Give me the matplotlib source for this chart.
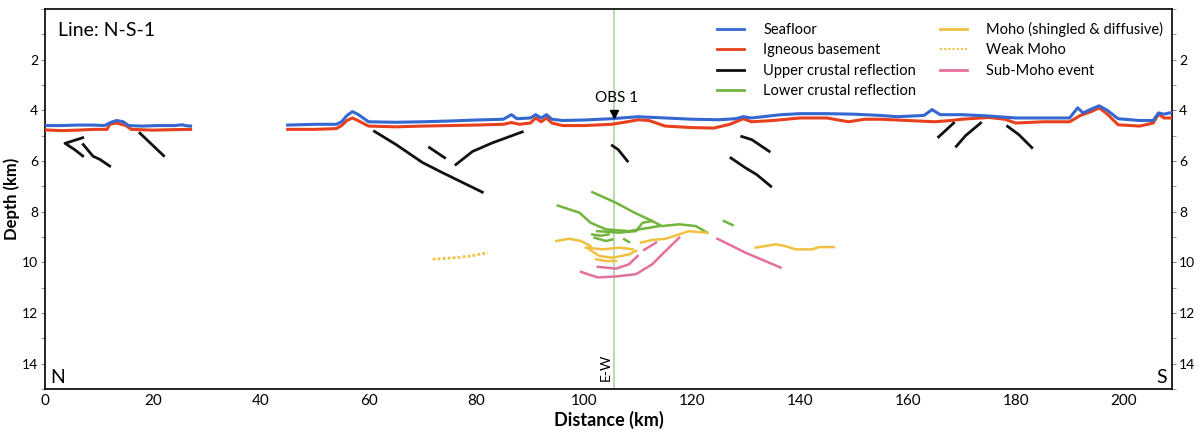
import numpy as np
import matplotlib
matplotlib.use("Agg")
import matplotlib.pyplot as plt
from matplotlib.lines import Line2D
from matplotlib.ticker import MultipleLocator

plt.rcParams["font.family"] = ["Lato", "DejaVu Sans"]

nan = np.nan

# seafloor / basement, NaN marks the data gap
sea_x = [0, 3, 6, 9, 11, 12.5, 13.3, 14.5, 15.5, 18, 21, 24, 25.5, 26, 27, nan,
         45, 50, 54, 55, 56, 57, 58, 60, 65, 70, 75, 80, 85, 86.5, 87.5, 90, 91, 92, 93, 94,
         96, 100, 105, 110, 115, 120, 125, 128, 129.5, 131, 136.5, 140, 145, 150, 155, 158,
         163, 164.5, 166, 170, 175, 180, 185, 190, 191.5, 192.5, 194, 195.5, 197, 199, 203,
         205.5, 206.5, 207.5, 209]
sea_z = [4.6, 4.6, 4.58, 4.58, 4.6, 4.45, 4.4, 4.45, 4.6, 4.62, 4.6, 4.6, 4.57, 4.6, 4.62, nan,
         4.58, 4.55, 4.55, 4.45, 4.2, 4.05, 4.15, 4.45, 4.47, 4.45, 4.42, 4.38, 4.35, 4.17, 4.33,
         4.3, 4.17, 4.3, 4.17, 4.35, 4.4, 4.38, 4.33, 4.25, 4.3, 4.35, 4.37, 4.33, 4.25, 4.3,
         4.17, 4.13, 4.13, 4.15, 4.2, 4.25, 4.2, 3.97, 4.17, 4.17, 4.22, 4.3, 4.3, 4.3, 3.9,
         4.1, 3.95, 3.82, 4.0, 4.33, 4.4, 4.4, 4.1, 4.15, 4.08]

base_x = [0, 3, 6, 9, 11.5, 12, 13.3, 15, 16, 20, 24, 27, nan,
          45, 50, 54, 55, 56, 57, 58, 60, 65, 70, 75, 80, 85, 86.5, 88, 90, 91, 92, 93, 94, 96,
          100, 105, 108, 110, 112, 115, 120, 124, 127, 129.5, 131, 135, 140, 145, 149, 152, 155,
          160, 165, 168, 170, 175, 178, 180, 185, 190, 192, 194, 195.5, 197, 199, 203, 205.5,
          206.5, 207.5, 209]
base_z = [4.77, 4.8, 4.78, 4.75, 4.75, 4.55, 4.5, 4.6, 4.75, 4.78, 4.76, 4.75, nan,
          4.75, 4.75, 4.72, 4.6, 4.4, 4.3, 4.4, 4.62, 4.65, 4.62, 4.6, 4.58, 4.55, 4.48, 4.55,
          4.5, 4.3, 4.45, 4.3, 4.5, 4.6, 4.6, 4.55, 4.45, 4.37, 4.4, 4.62, 4.68, 4.7, 4.55, 4.33,
          4.45, 4.4, 4.3, 4.3, 4.45, 4.35, 4.35, 4.4, 4.45, 4.4, 4.35, 4.28, 4.35, 4.5, 4.45,
          4.45, 4.2, 4.05, 3.9, 4.15, 4.57, 4.62, 4.5, 4.15, 4.3, 4.3]

# upper crustal reflections (one list per segment)
upper_x = [[7.0, 4.5, 3.7, 5.5, 7.0], [7.1, 8.9, 10.2, 12.0], [17.6, 22.0],
           [61.1, 65.1, 70.0, 73.7, 81.1], [71.3, 74.1], [76.2, 79.3, 83.0, 88.5],
           [105.2, 106.3, 108.0], [129.2, 131.1, 134.3], [127.2, 129.9, 132.0, 134.6],
           [165.7, 168.5], [169.0, 170.7, 173.5], [178.5, 180.6, 183.0]]
upper_z = [[5.08, 5.25, 5.3, 5.55, 5.8], [5.35, 5.81, 5.94, 6.2], [4.9, 5.79],
           [4.83, 5.35, 6.06, 6.46, 7.23], [5.47, 5.87], [6.14, 5.62, 5.28, 4.85],
           [5.39, 5.55, 6.0], [5.03, 5.16, 5.62], [5.88, 6.27, 6.54, 7.0],
           [5.05, 4.5], [5.42, 5.0, 4.5], [4.63, 4.96, 5.47]]

# lower crustal reflections
lower_x = [[95.1, 99.1, 101.2, 104.0, 108.3, 113.9],
           [101.5, 105.9, 109.3, 112.6, 114.4, 117.6, 120.7, 122.8],
           [102.4, 106.5, 109.6, 110.8, 112.6],
           [101.9, 104.0, 105.2], [101.5, 103.0, 104.5],
           [107.4, 108.3], [125.9, 127.5]]
lower_z = [[7.76, 8.04, 8.44, 8.7, 8.77, 8.57],
           [7.23, 7.65, 8.04, 8.37, 8.57, 8.5, 8.57, 8.83],
           [8.77, 8.83, 8.77, 8.44, 8.37],
           [9.03, 9.16, 9.1], [8.9, 8.95, 8.9],
           [9.09, 9.2], [8.37, 8.53]]

# Moho (shingled & diffusive)
moho_x = [[94.8, 97.2, 99.4, 101.2, 100.9, 102.8, 105.2, 108.3, 109.6],
          [100.3, 103.4, 106.5, 109.0],
          [102.2, 104.0, 105.9],
          [110.5, 112.6, 115.1, 117.6, 119.4, 121.3, 122.8],
          [131.8, 135.5, 137.3, 139.2, 142.3, 143.5, 146.3]]
moho_z = [[9.16, 9.07, 9.16, 9.36, 9.49, 9.75, 9.82, 9.69, 9.55],
          [9.42, 9.49, 9.42, 9.49],
          [9.88, 9.95, 9.95],
          [9.22, 9.12, 9.07, 8.9, 8.77, 8.81, 8.83],
          [9.42, 9.29, 9.36, 9.49, 9.49, 9.4, 9.4]]

weak_x = [71.9, 76.0, 79.0, 82.1]
weak_z = [9.88, 9.82, 9.75, 9.62]

# sub-Moho events
sub_x = [[99.4, 102.5, 105.9, 109.6, 112.6, 115.1, 117.6],
         [102.5, 105.9, 108.3, 109.9],
         [111.1, 113.3],
         [124.7, 129.9, 136.4]]
sub_z = [[10.38, 10.6, 10.56, 10.47, 10.08, 9.55, 9.03],
         [10.18, 10.25, 10.08, 9.75],
         [9.51, 9.22],
         [9.07, 9.62, 10.21]]

obs_x, obs_z = 105.6, 4.13
ew_x = 105.6

c_sea = "#3468d0"
c_base = "#e8401c"
c_upper = "#111111"
c_lower = "#72b43c"
c_moho = "#f0c040"
c_sub = "#e4709c"

fig = plt.figure(figsize=(12, 4.34), dpi=100)
ax = fig.add_axes([0.0375, 0.104, 0.9392, 0.875])

ax.axvline(ew_x, color="#a8d8a0", lw=1.2, zorder=1)

ax.plot(base_x, base_z, color=c_base, lw=2.2, zorder=3)
ax.plot(sea_x, sea_z, color=c_sea, lw=2.2, zorder=4)
for xs, zs in zip(upper_x, upper_z):
    ax.plot(xs, zs, color=c_upper, lw=2.0, zorder=3)
for xs, zs in zip(lower_x, lower_z):
    ax.plot(xs, zs, color=c_lower, lw=1.8, zorder=3)
for xs, zs in zip(moho_x, moho_z):
    ax.plot(xs, zs, color=c_moho, lw=1.8, zorder=3)
ax.plot(weak_x, weak_z, color=c_moho, lw=2.0, ls=(0, (1, 0.8)), zorder=3)
for xs, zs in zip(sub_x, sub_z):
    ax.plot(xs, zs, color=c_sub, lw=1.8, zorder=3)

ax.plot([obs_x], [obs_z], marker="v", color="black", ms=6, zorder=5)
ax.text(obs_x + 0.4, obs_z - 0.35, "OBS 1", ha="center", va="bottom", fontsize=11)
ax.text(ew_x - 1.6, 14.7, "E-W", rotation=90, ha="center", va="bottom", fontsize=10)

ax.text(2.5, 0.85, "Line: N-S-1", fontsize=14, ha="left", va="center")
ax.text(1.0, 14.55, "N", fontsize=14, ha="left", va="center")
ax.text(208.0, 14.55, "S", fontsize=14, ha="right", va="center")

ax.set_xlim(0, 209)
ax.set_ylim(15, 0)
ax.xaxis.set_major_locator(MultipleLocator(20))
ax.yaxis.set_minor_locator(MultipleLocator(1))
ax.set_yticks([2, 4, 6, 8, 10, 12, 14])
ax.tick_params(axis="y", which="both", left=True, right=True, labelleft=True,
               labelright=True, labelsize=10, length=3, pad=2, color="#888888")
ax.tick_params(axis="x", labelsize=11, length=0, pad=4)
for s in ax.spines.values():
    s.set_linewidth(1.2)

ax.set_xlabel("Distance (km)", fontsize=13, fontweight="bold", labelpad=2)
ax.set_ylabel("Depth (km)", fontsize=12, fontweight="bold", labelpad=1)

handles = [
    Line2D([], [], color=c_sea, lw=2, label="Seafloor"),
    Line2D([], [], color=c_base, lw=2, label="Igneous basement"),
    Line2D([], [], color=c_upper, lw=2, label="Upper crustal reflection"),
    Line2D([], [], color=c_lower, lw=2, label="Lower crustal reflection"),
    Line2D([], [], color=c_moho, lw=2, label="Moho (shingled & diffusive)"),
    Line2D([], [], color=c_moho, lw=1.5, ls=(0, (1, 1)), label="Weak Moho"),
    Line2D([], [], color=c_sub, lw=2, label="Sub-Moho event"),
]
ax.legend(handles=handles, ncol=2, loc="upper right", bbox_to_anchor=(1.0, 0.99),
          frameon=False, fontsize=10.5, handlelength=1.9, handletextpad=1.3,
          columnspacing=1.6, labelspacing=0.45, borderaxespad=0.2)

fig.savefig("out.png", dpi=100)
